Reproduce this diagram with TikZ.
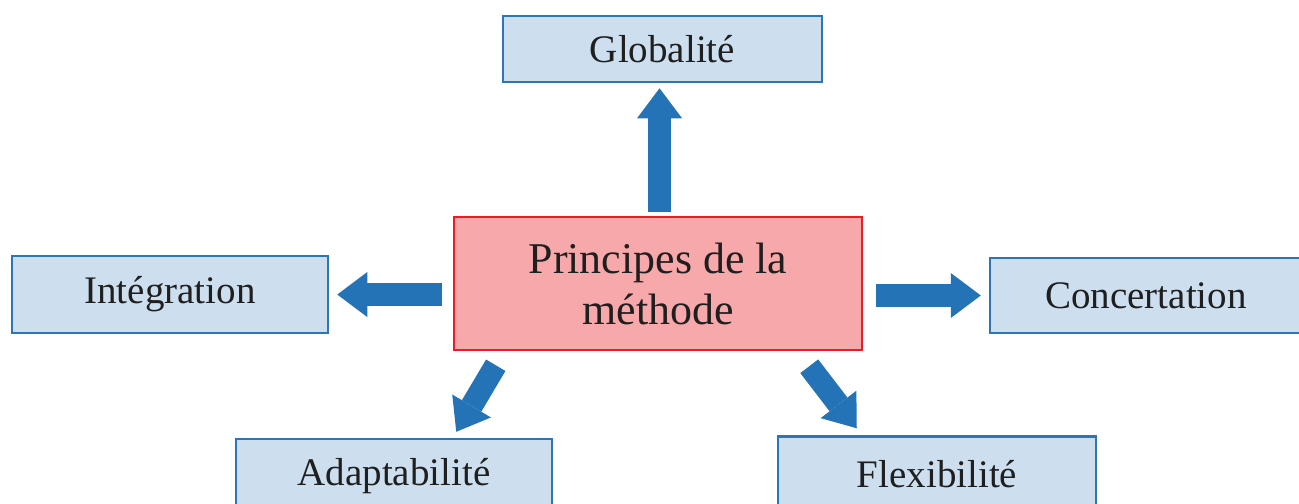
\documentclass[tikz,border=0pt]{standalone}
\usepackage{fontspec}
\setmainfont{Liberation Serif}
\usetikzlibrary{arrows.meta}
\definecolor{arrowblue}{RGB}{36,115,183}
\definecolor{boxline}{RGB}{46,117,182}
\definecolor{boxfill}{RGB}{205,223,239}
\definecolor{mainline}{RGB}{237,28,36}
\definecolor{mainfill}{RGB}{247,168,170}
\begin{document}
\begin{tikzpicture}[
    principle/.style={draw=boxline, line width=0.05cm, fill=boxfill,
      inner sep=0pt, font=\fontsize{22.2}{27}\selectfont, text=black!88},
    mainbox/.style={draw=mainline, line width=0.05cm, fill=mainfill,
      inner sep=0pt, align=center, font=\fontsize{25}{29}\selectfont, text=black!88},
    blockarrow/.style={draw=arrowblue, line width=0.45cm,
      -{Triangle[width=0.9cm, length=0.6cm, line width=0pt]}}
  ]
  \useasboundingbox (0,0) rectangle (25.98,10.06);
  \clip (0,0) rectangle (25.98,10.06);
  % boxes
  \node[mainbox, minimum width=8.16cm, minimum height=2.66cm] (centre) at (13.16,4.39)
    {Principes de la\\m\'ethode};
  \node[principle, minimum width=6.38cm, minimum height=1.32cm] (glob) at (13.25,9.08) {Globalit\'e};
  \node[principle, minimum width=6.32cm, minimum height=1.54cm] (integ) at (3.40,4.17) {Int\'egration};
  \node[principle, minimum width=6.24cm, minimum height=1.50cm] (concert) at (22.92,4.15) {Concertation};
  \node[principle, minimum width=6.32cm, minimum height=1.50cm] (adapt) at (7.88,0.53) {Adaptabilit\'e};
  \node[principle, minimum width=6.36cm, minimum height=1.50cm] (flex) at (18.74,0.58) {Flexibilit\'e};
  % arrows
  \begin{scope}[blockarrow]
    \draw ([xshift=0.03cm, yshift=0.08cm]centre.north) -- ([xshift=-0.06cm, yshift=-0.1cm]glob.south);
    \draw[shorten <=0.22cm, shorten >=0.16cm] (centre.west |- integ.east) -- (integ.east);
    \draw[shorten <=0.26cm, shorten >=0.16cm] (centre.east |- concert.west) -- (concert.west);
    \draw ([xshift=0.86cm, yshift=-0.28cm]centre.south west) -- ([xshift=-1.94cm, yshift=0.12cm]adapt.north east);
    \draw ([xshift=-1.08cm, yshift=-0.30cm]centre.south east) -- ([xshift=1.6cm, yshift=0.14cm]flex.north west);
  \end{scope}
\end{tikzpicture}
\end{document}
